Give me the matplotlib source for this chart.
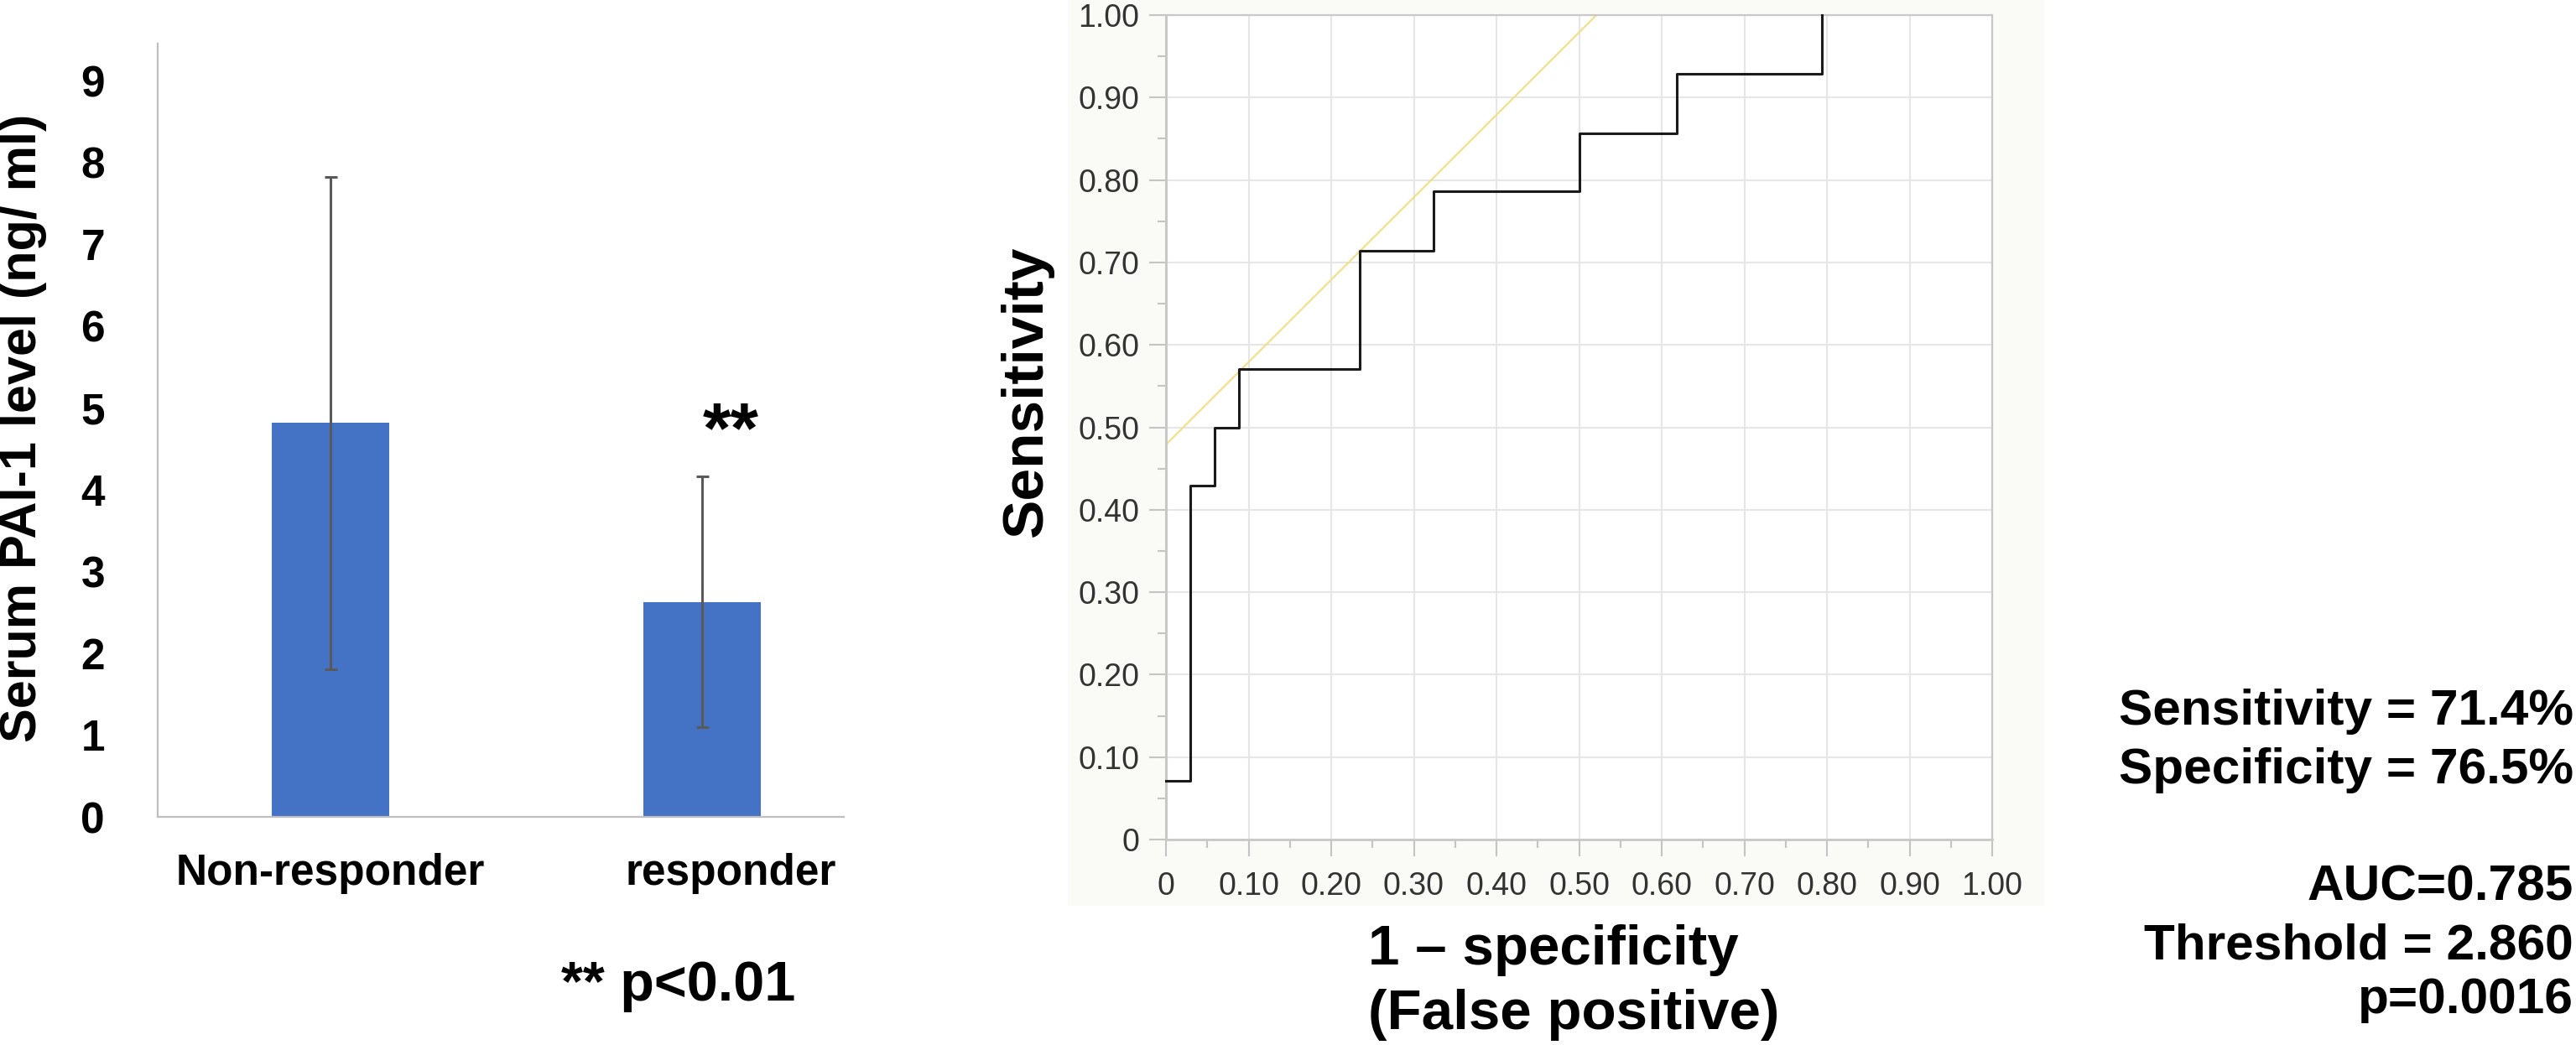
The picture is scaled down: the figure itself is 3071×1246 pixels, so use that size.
import matplotlib
matplotlib.use('Agg')
import matplotlib.pyplot as plt
import numpy as np
from matplotlib.patches import Rectangle
from matplotlib.ticker import MultipleLocator

plt.rcParams['font.family'] = ['Liberation Sans', 'DejaVu Sans']

# ---- data ----
groups = ['Non-responder', 'responder']
means = [4.82, 2.63]
sds = [3.01, 1.53]
bar_yticks = list(range(0, 10))

# ROC curve (1 - specificity, sensitivity) at each step
fpr = [0.0, 0.029, 0.059, 0.088, 0.235, 0.324, 0.500, 0.618, 0.794]
tpr = [0.071, 0.429, 0.500, 0.571, 0.714, 0.786, 0.857, 0.929, 1.000]
cut_fpr, cut_tpr = 0.235, 0.714   # optimal cut point (Youden)
roc_ticks = [0.0, 0.1, 0.2, 0.3, 0.4, 0.5, 0.6, 0.7, 0.8, 0.9, 1.0]
roc_ticklabels = ['0'] + ['%.2f' % v for v in roc_ticks[1:]]

stats_top = ['Sensitivity = 71.4%', 'Specificity = 76.5%']
stats_bottom = ['AUC=0.785', 'Threshold = 2.860', 'p=0.0016']

# ---- figure ----
W, H = 3071, 1246
fig = plt.figure(figsize=(W / 100, H / 100), dpi=100)
fig.patch.set_facecolor('white')

def fx(px):
    return px / W

def fy(py):
    return 1 - py / H

# light panel behind the ROC plot
fig.add_artist(Rectangle((fx(1273), fy(1080)), fx(2437) - fx(1273), 1080 / H,
                         transform=fig.transFigure, facecolor='#fafaf6',
                         edgecolor='none', zorder=-10))

# ---- left: bar chart ----
ax1 = fig.add_axes([fx(187.5), fy(974), fx(1006) - fx(187.5), (974 - 52) / H])
x = np.arange(len(groups))
ax1.bar(x, means, width=0.318, color='#4472c4', yerr=sds, zorder=2,
        error_kw=dict(ecolor='#595959', elinewidth=2.2, capsize=5.4, capthick=2.2))
ax1.set_xlim(-0.466, 1.3815)
ax1.set_ylim(0, 9.456)
for s in ['top', 'right']:
    ax1.spines[s].set_visible(False)
for s in ['left', 'bottom']:
    ax1.spines[s].set_color('#bfbfbf')
    ax1.spines[s].set_linewidth(1.6)
ax1.set_yticks(bar_yticks)
ax1.set_yticklabels([str(v) for v in bar_yticks], fontsize=37, fontweight='bold')
ax1.tick_params(axis='y', length=0, pad=45)
ax1.set_xticks([])
label_dx = [0.0, 0.077]
for i, g in enumerate(groups):
    ax1.text(x[i] + label_dx[i], -0.088, g, transform=ax1.get_xaxis_transform(),
             ha='center', va='baseline', fontsize=37, fontweight='bold')
ax1.text(1.077, 4.46, '**', ha='center', va='baseline', fontsize=62, fontweight='bold')

fig.text(fx(28), fy(510), 'Serum PAI-1 level (ng/ ml)', rotation=90,
         ha='center', va='center', fontsize=44, fontweight='bold')
fig.text(fx(669), fy(1193), '** p<0.01', ha='left', va='baseline',
         fontsize=48, fontweight='bold')

# ---- middle: ROC curve ----
ax2 = fig.add_axes([fx(1390), fy(1001), fx(2375) - fx(1390), (1001 - 18) / H])
ax2.set_facecolor('white')
ax2.set_xlim(0, 1)
ax2.set_ylim(0, 1)
ax2.set_xticks(roc_ticks)
ax2.set_yticks(roc_ticks)
ax2.set_xticklabels(roc_ticklabels)
ax2.set_yticklabels(roc_ticklabels)
ax2.xaxis.set_minor_locator(MultipleLocator(0.05))
ax2.yaxis.set_minor_locator(MultipleLocator(0.05))
ax2.grid(True, which='major', color='#e6e6e6', lw=1.5, zorder=0)
ax2.set_axisbelow(True)
ax2.tick_params(which='major', length=14.4, width=1.5, color='#c4c4c4',
                labelsize=27, labelcolor='#333333')
ax2.tick_params(axis='y', which='major', pad=8.5)
ax2.tick_params(axis='x', which='major', pad=13)
ax2.tick_params(which='minor', length=7.2, width=1.5, color='#c4c4c4')
for s in ax2.spines:
    ax2.spines[s].set_color('#c8c8c8')
    ax2.spines[s].set_linewidth(1.6)
ax2.spines['left'].set_linewidth(2.2)
ax2.spines['bottom'].set_linewidth(2.0)

intercept = cut_tpr - cut_fpr
xs = np.array([0.0, 1.0 - intercept])
ax2.plot(xs, xs + intercept, color='#f0e08c', lw=1.6, zorder=2)
ax2.step(fpr, tpr, where='post', color='#1a1a1a', lw=2.2, zorder=3, clip_on=False)

fig.text(fx(1224), fy(466), 'Sensitivity', rotation=90, ha='center', va='center',
         fontsize=50, fontweight='bold')
fig.text(fx(1631), fy(1150), '1 \u2013 specificity', ha='left', va='baseline',
         fontsize=48.5, fontweight='bold')
fig.text(fx(1631), fy(1227), '(False positive)', ha='left', va='baseline',
         fontsize=48.5, fontweight='bold')

# ---- right: statistics ----
for txt, yb in zip(stats_top, [864, 934]):
    fig.text(fx(3068), fy(yb), txt, ha='right', va='baseline', fontsize=43.5,
             fontweight='bold')
for txt, yb in zip(stats_bottom, [1074, 1143, 1208]):
    fig.text(fx(3068), fy(yb), txt, ha='right', va='baseline', fontsize=43.5,
             fontweight='bold')

fig.savefig('out.png', dpi=100)
